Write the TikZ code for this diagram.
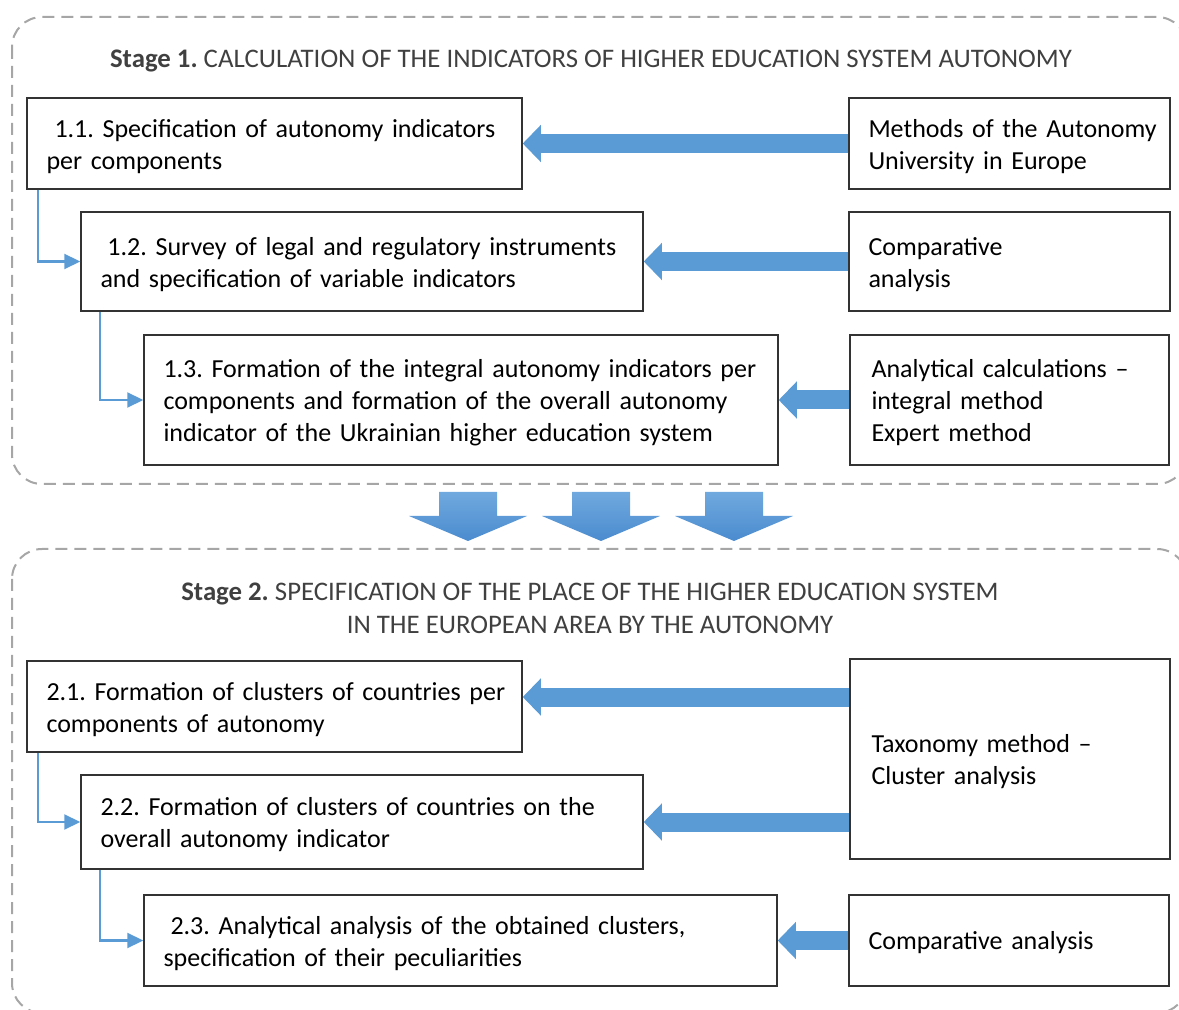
\documentclass[tikz,border=0pt]{standalone}
\usepackage{fontspec}
\setmainfont{Carlito}
\frenchspacing
\usetikzlibrary{arrows.meta}
\definecolor{arrowblue}{HTML}{5B9BD5}
\definecolor{arrowtop}{HTML}{70A9DE}
\definecolor{arrowbottom}{HTML}{4A8BCF}
\definecolor{framegray}{HTML}{A6A6A6}
\definecolor{titlegray}{HTML}{404040}
\begin{document}
\begin{tikzpicture}[x=0.5pt,y=-0.5pt,
    box/.style={draw=black!80, line width=0.75pt, inner xsep=0pt, align=left,
      font=\fontsize{13}{16}\selectfont, execute at begin node={\leftskip=9.75pt},
      execute at end node={\vspace{-3pt}}},
    title/.style={text=titlegray, font=\fontsize{13.4}{16.5}\selectfont},
    frame/.style={draw=framegray, line width=1pt, dash pattern=on 6pt off 3.5pt, rounded corners=15pt},
    blockarrow/.style={draw=arrowblue, line width=9.5pt, -{Triangle[width=18pt,length=9pt]}},
    link/.style={draw=arrowblue, line width=1.1pt, -{Triangle[width=7.5pt,length=8pt]}}]
\useasboundingbox (0,0) rectangle (1179,1010);

% Dashed frames of the two stages
\draw[frame] (12,17) rectangle (1187,484);
\draw[frame] (12,549) rectangle (1187,1013);

% Stage 1
\node[title] (s1) at (591,61) {\textbf{Stage 1.} CALCULATION OF THE INDICATORS OF HIGHER EDUCATION SYSTEM AUTONOMY};

\node[box, text width=247.5pt, minimum height=45.5pt] (b11) at (274.5,143.5)
  {\hspace{4pt}1.1. Specification of autonomy indicators\\per components};
\node[box, text width=281pt, minimum height=49.5pt] (b12) at (362,261.5)
  {\hspace{3.5pt}1.2. Survey of legal and regulatory instruments\\and specification of variable indicators};
\node[box, text width=317pt, minimum height=65pt] (b13) at (461,400)
  {1.3. Formation of the integral autonomy indicators per\\components and formation of the overall autonomy\\indicator of the Ukrainian higher education system};

\node[box, text width=160.5pt, minimum height=45.5pt] (m1) at (1009.5,143.5)
  {Methods of the Autonomy\\University in Europe};
\node[box, text width=160.5pt, minimum height=49.5pt] (c1) at (1009.5,261.5)
  {Comparative\\analysis};
\node[box, text width=159.5pt, minimum height=65pt] (a1) at (1009.5,400)
  {\hspace{1pt}Analytical calculations --\\\hspace{1pt}integral method\\\hspace{1pt}Expert method};

% Method arrows of stage 1
\draw[blockarrow] (m1.west) -- (m1.west -| b11.east);
\draw[blockarrow] (c1.west) -- (c1.west -| b12.east);
\draw[blockarrow] (a1.west) -- (a1.west -| b13.east);

% Links between steps of stage 1
\draw[link] ([xshift=6pt]b11.south west) |- (b12.west);
\draw[link] ([xshift=10pt]b12.south west) |- (b13.west);

% Arrows from stage 1 to stage 2
\foreach \cx in {468,601,734}
  \shade[top color=arrowtop, bottom color=arrowbottom]
    ({\cx-29},492) -- ({\cx+29},492) -- ({\cx+29},516) -- ({\cx+59},516)
    -- (\cx,541) -- ({\cx-59},516) -- ({\cx-29},516) -- cycle;

% Stage 2
\node[title, align=center] (s2) at (590,608)
  {\textbf{Stage 2.} SPECIFICATION OF THE PLACE OF THE HIGHER EDUCATION SYSTEM\\IN THE EUROPEAN AREA BY THE AUTONOMY};

\node[box, text width=247.5pt, minimum height=45.5pt] (b21) at (274.5,706.5)
  {2.1. Formation of clusters of countries per\\components of autonomy};
\node[box, text width=281pt, minimum height=47pt] (b22) at (362,822)
  {2.2. Formation of clusters of countries on the\\overall autonomy indicator};
\node[box, text width=316.5pt, minimum height=45.5pt] (b23) at (460.5,940.5)
  {\hspace{3.5pt}2.3. Analytical analysis of the obtained clusters,\\specification of their peculiarities};

\node[box, text width=160pt, minimum height=100pt] (t) at (1010,759)
  {\hspace{1pt}Taxonomy method --\\\hspace{1pt}Cluster analysis};
\node[box, text width=160pt, minimum height=45.5pt] (c2) at (1009,940.5)
  {Comparative analysis};

% Method arrows of stage 2
\draw[blockarrow] ([yshift=4.75pt]b21.east -| t.west) -- ([yshift=4.75pt]b21.east);
\draw[blockarrow] (b22.east -| t.west) -- (b22.east);
\draw[blockarrow] (c2.west) -- (c2.west -| b23.east);

% Links between steps of stage 2
\draw[link] ([xshift=6pt]b21.south west) |- (b22.west);
\draw[link] ([xshift=10pt]b22.south west) |- (b23.west);
\end{tikzpicture}
\end{document}
